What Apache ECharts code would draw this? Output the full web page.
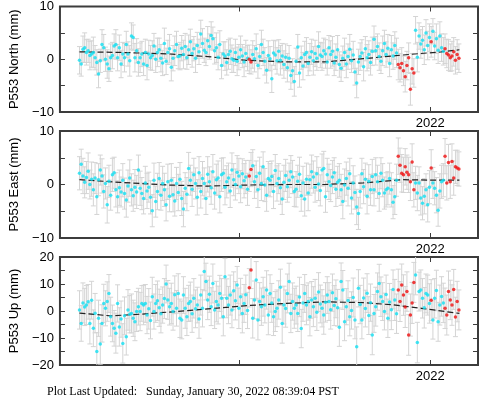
<!DOCTYPE html>
<html><head><meta charset="utf-8">
<script src="https://cdn.jsdelivr.net/npm/echarts@6/dist/echarts.min.js"></script>
<style>html,body{margin:0;padding:0;background:#fff}#c{width:481px;height:404px}</style>
</head><body><div id="c"></div>
<script>
// ---- data (mm), epochs in decimal years (regular sampling grid) ----
const epochStart = 2020.168, epochStep = 0.009047, epochCount = 220;
const northVals = [
 -0.2,-0.9,1.9,2.2,1.3,1.6,0.7,1.0,1.3,0.3,
 -0.6,-2.8,-0.3,2.8,2.2,0.0,-0.9,-1.8,0.3,0.7,
 2.5,2.8,0.3,2.2,-0.9,1.0,0.3,2.8,1.0,-0.3,
 4.4,4.1,0.3,1.6,-0.6,0.3,1.0,-0.9,1.3,-1.2,
 1.0,0.3,0.7,2.5,0.0,1.3,1.8,0.2,-0.7,3.0,
 -0.4,1.3,2.0,-1.5,0.2,1.6,2.8,0.5,0.6,2.1,
 0.9,2.4,0.3,1.8,3.3,1.1,2.0,0.2,2.6,1.4,
 4.8,3.0,1.7,1.3,3.5,2.4,4.5,3.9,1.6,2.2,
 0.4,2.8,-1.2,1.0,0.6,-0.6,0.9,1.5,0.1,-0.2,
 1.3,-0.4,0.4,1.8,0.6,-0.5,1.1,0.2,0.0,-0.5,
 0.9,0.1,2.0,-1.2,0.5,2.8,1.3,-0.4,-2.1,0.7,
 0.1,-3.7,1.2,0.8,-0.3,1.5,-0.2,0.6,-1.0,0.4,
 -1.6,0.2,-3.1,-2.2,-4.2,-0.4,2.3,-2.6,0.3,-1.3,
 0.9,1.3,-0.8,0.4,1.4,-0.3,1.1,0.2,2.4,0.8,
 0.5,1.6,1.0,-0.5,2.2,0.9,1.5,-0.7,0.4,1.8,
 -1.0,-1.7,0.2,1.3,-0.9,0.5,1.9,-0.3,0.8,-2.4,
 -4.5,-0.5,0.5,1.2,-1.4,2.0,0.3,0.9,-0.6,1.5,
 3.8,1.6,2.4,0.5,-0.4,1.6,3.0,0.9,2.1,-0.8,
 1.8,0.6,2.6,1.2,-1.0,-1.6,-0.8,-2.2,-3.3,-1.2,
 0.3,-5.7,-1.8,-2.6,5.5,0.4,4.4,2.9,3.6,1.8,
 5.0,2.6,4.1,3.3,5.3,2.5,3.9,1.7,4.4,2.2,
 1.5,2.0,1.1,0.8,0.3,0.6,1.4,-0.2,0.9,0.2];
const eastVals = [
 2.1,3.8,1.6,0.4,1.3,2.5,0.0,1.0,-1.0,1.2,
 -2.3,0.9,2.7,1.6,-1.3,0.2,-3.8,0.6,-2.0,1.8,
 2.2,-1.0,-2.3,-0.6,-1.4,0.8,-1.7,-2.9,-0.3,1.2,
 -1.0,-2.1,-0.5,-1.4,2.7,-0.7,-1.7,-2.6,0.3,-1.2,
 -0.5,-2.4,-4.9,0.8,-3.2,-1.3,1.1,-2.0,0.2,-1.0,
 -3.8,0.5,-2.2,0.8,-1.9,-3.1,0.2,-1.5,1.0,-2.6,
 -4.6,-0.7,-1.8,3.0,0.8,-0.9,1.8,0.2,-2.4,2.2,
 -1.3,1.1,0.2,-2.6,1.9,0.5,-0.6,2.4,-1.6,0.9,
 1.2,-2.3,1.8,2.1,-0.5,0.5,1.2,-1.2,2.7,0.9,
 0.0,2.3,1.6,-0.4,2.0,0.7,1.4,-0.9,1.6,2.8,
 3.5,0.5,1.5,-1.0,2.1,0.2,3.3,-0.1,-2.0,1.1,
 0.8,1.5,-1.3,2.6,0.2,1.1,-0.6,-2.7,0.4,1.7,
 -0.4,0.8,2.4,1.4,-1.3,-0.9,0.6,1.9,-2.1,0.3,
 -2.7,1.0,-1.6,0.9,2.4,1.4,-0.5,2.0,0.1,-1.1,
 2.7,3.0,-2.3,1.8,0.5,-0.2,1.4,2.2,-0.9,0.4,
 0.8,-1.0,-3.2,-0.1,1.1,-0.7,2.0,-2.5,0.3,-1.5,
 -4.2,-5.4,-1.3,2.0,-0.4,1.0,-2.2,0.6,-1.0,1.5,
 -1.0,1.8,0.5,-1.7,2.1,0.8,-1.6,-1.0,-0.7,1.1,
 -1.0,-3.3,-2.3,0.8,5.3,3.6,2.1,1.8,3.3,2.3,
 1.8,0.5,4.2,-1.0,0.3,-1.6,0.3,-2.5,-3.5,-2.2,
 -1.0,-3.8,-0.5,3.1,0.3,-0.7,-2.0,-4.8,-1.2,0.5,
 0.8,5.3,0.3,4.1,0.5,4.3,1.2,3.3,3.1,2.9];
const upVals = [
 0.4,-4.6,3.0,1.5,2.2,3.4,-4.6,4.0,-6.4,-0.8,
 -15.0,-2.7,-12.2,-4.6,2.8,1.0,3.5,6.5,-2.1,-4.6,
 -6.4,-8.2,2.8,-5.9,-3.0,-12.0,-1.8,-9.5,0.4,-1.2,
 -0.9,-2.7,-4.0,-0.2,1.6,-0.2,2.8,2.2,2.8,-1.5,
 0.8,-3.5,5.3,-0.2,2.8,3.8,1.2,-1.0,2.2,4.6,
 10.0,4.1,1.6,2.8,-0.2,6.0,1.0,6.5,-2.7,-3.3,
 5.9,1.0,-2.1,2.8,3.5,-1.0,4.7,0.8,2.2,-3.0,
 5.9,1.0,14.6,10.9,4.1,6.2,1.6,10.2,0.4,3.5,
 2.2,6.5,4.7,-2.1,12.7,4.7,2.2,5.9,0.4,7.5,
 3.8,9.6,1.0,5.3,-0.9,2.8,6.0,0.2,8.6,15.2,
 -2.7,4.1,11.5,-3.3,3.5,1.6,5.3,2.2,7.8,-1.5,
 6.5,3.0,-2.1,-0.2,1.0,4.1,8.8,-4.6,2.2,0.9,
 6.5,10.9,-0.9,3.5,1.0,2.2,-0.9,5.2,-6.5,3.0,
 6.5,2.2,3.5,-2.1,4.1,1.6,4.7,-0.5,7.0,2.6,
 1.0,-1.5,3.2,5.9,3.5,0.5,6.8,2.0,4.5,1.2,
 -6.0,10.9,7.8,-4.0,1.6,3.9,-2.1,0.2,5.0,-3.3,
 -13.2,8.4,2.4,-3.3,4.8,0.9,6.6,-1.7,3.1,-8.9,
 -0.9,1.6,7.2,10.2,5.3,3.5,-0.2,6.1,-2.7,3.3,
 0.5,8.0,4.1,-1.0,7.8,3.5,9.6,5.9,1.5,7.2,
 -8.9,-1.5,3.0,10.6,13.3,-11.7,7.2,7.8,4.7,1.2,
 6.5,5.9,2.8,4.0,-3.3,4.7,7.6,-4.0,2.2,5.4,
 3.0,1.0,-1.5,7.2,4.1,2.2,8.0,-2.2,3.5,0.4];
const northErr = [
 2.6,2.3,2.5,2.8,2.4,2.2,2.7,2.5,2.9,2.3, 2.4,2.6,2.2,2.8,2.5,2.3,2.7,2.4,2.6,2.5,
 2.3,2.8,2.5,2.4,2.6,2.2,2.7,2.5,2.3,2.9, 2.5,2.4,2.7,2.3,2.6,2.8,2.4,2.2,2.5,2.7,
 2.6,2.3,2.8,2.4,2.5,2.7,2.2,2.6,2.4,2.9, 2.5,2.3,2.7,2.6,2.4,2.8,2.5,2.3,2.6,2.4,
 2.7,2.5,2.2,2.8,2.4,2.6,2.3,2.7,2.5,2.4, 2.6,2.8,2.3,2.5,2.7,2.4,2.6,2.2,2.5,2.8,
 2.4,2.6,2.5,2.3,2.7,2.4,2.8,2.5,2.6,2.3, 2.5,2.7,2.4,2.6,2.2,2.8,2.5,2.4,2.7,2.3,
 2.6,2.5,2.8,2.4,2.3,2.7,2.5,2.6,2.4,2.8, 2.3,2.6,2.4,2.7,2.5,2.2,2.8,2.4,2.6,2.5,
 2.7,2.4,2.6,2.3,2.8,2.5,2.4,2.7,2.2,2.6, 2.5,2.8,2.3,2.6,2.4,2.7,2.5,2.3,2.8,2.4,
 2.6,2.4,2.7,2.5,2.3,2.6,2.8,2.4,2.5,2.7, 2.4,2.5,2.3,2.7,2.6,2.4,2.8,2.2,2.6,2.5,
 2.8,2.4,2.6,2.5,2.7,2.3,2.5,2.6,2.4,2.7, 2.5,2.7,2.4,2.6,2.3,2.8,2.5,2.4,2.6,2.5,
 2.7,2.5,2.6,2.8,2.9,2.7,3.0,2.8,2.9,2.7, 2.8,3.0,2.9,2.7,2.6,2.8,2.5,2.7,2.6,2.8,
 2.5,2.7,2.6,2.9,2.4,2.6,2.8,2.5,2.7,2.6, 2.6,2.8,2.7,2.9,2.6,2.8,2.7,2.6,2.8,2.7];
const eastErr = [
 3.1,2.8,3.3,2.9,3.0,3.4,2.7,3.2,3.0,2.9, 3.3,3.0,2.8,3.2,3.1,2.9,3.4,3.0,2.8,3.1,
 2.9,3.2,3.0,3.3,2.8,3.1,2.9,3.2,3.0,3.4, 3.0,2.9,3.3,3.1,2.8,3.2,3.0,2.9,3.1,3.3,
 2.8,3.1,3.0,3.2,2.9,3.4,3.0,2.8,3.2,3.1, 3.0,3.3,2.9,3.1,3.2,2.8,3.0,3.4,3.1,3.2,
 3.3,2.9,3.1,3.0,2.8,3.2,3.1,2.9,3.3,3.0, 3.1,3.2,2.9,3.0,3.3,2.8,3.1,3.2,3.0,2.9,
 3.2,3.0,3.1,2.9,3.3,3.0,2.8,3.1,3.2,3.0, 2.9,3.1,3.3,3.0,2.8,3.2,3.1,3.0,2.9,3.2,
 3.0,3.1,2.9,3.3,3.0,3.2,2.8,3.1,3.0,3.2, 3.1,2.9,3.2,3.0,3.3,2.8,3.1,2.9,3.2,3.0,
 2.9,3.2,3.0,3.1,2.8,3.3,3.0,3.2,2.9,3.1, 3.2,3.0,3.3,2.9,3.1,3.0,2.8,3.2,3.1,2.9,
 3.0,3.2,2.9,3.1,3.3,3.0,3.1,2.8,3.2,3.0, 3.1,2.9,3.2,3.0,3.1,3.3,2.9,3.0,3.2,3.1,
 3.3,3.0,3.1,2.9,3.2,3.0,3.3,3.1,2.9,3.2, 3.0,3.2,3.1,3.3,2.9,3.1,3.0,3.2,3.1,2.9,
 3.2,3.1,3.3,3.0,3.4,3.2,3.5,3.3,3.4,3.2, 3.3,3.5,3.4,3.2,3.1,3.3,3.0,3.2,3.1,3.3,
 3.0,3.2,3.1,3.4,2.9,3.1,3.3,3.0,3.2,3.1, 3.1,3.3,3.2,3.4,3.1,3.3,3.2,3.1,3.3,3.2];
const upErr = [
 7.1,6.6,7.4,6.9,7.2,6.4,7.6,7.0,6.8,7.3, 7.0,6.7,7.5,6.9,7.1,6.5,7.3,7.0,7.2,6.8,
 6.6,7.4,6.9,7.1,6.7,7.3,7.0,6.8,7.5,6.9, 7.2,6.7,7.0,7.4,6.8,7.1,6.6,7.3,7.0,6.9,
 7.5,6.8,7.2,6.5,7.0,7.3,6.9,7.1,6.7,7.4, 7.0,7.2,6.8,7.5,6.9,7.0,6.6,7.3,7.1,7.0,
 6.8,7.4,7.0,6.7,7.2,6.9,7.3,7.0,6.6,7.1, 7.4,6.9,7.1,6.8,7.3,6.7,7.0,7.2,6.9,7.5,
 7.0,6.7,7.3,7.1,6.8,7.2,6.9,7.4,6.6,7.0, 7.1,6.9,7.5,6.8,7.2,7.0,7.3,6.7,7.1,6.9,
 7.3,7.0,6.8,7.4,7.0,6.9,7.2,6.6,7.1,7.3, 6.9,7.2,7.0,7.4,6.8,7.1,6.7,7.3,7.0,6.9,
 7.2,6.8,7.1,6.9,7.4,7.0,6.7,7.3,7.1,6.8, 7.0,7.3,6.9,7.1,6.8,7.4,7.0,6.7,7.2,7.0,
 6.9,7.1,7.3,6.8,7.0,7.2,6.9,7.4,7.0,6.8, 7.1,6.9,7.2,7.0,6.7,7.3,7.1,6.9,7.2,7.0,
 7.3,6.9,7.1,7.0,7.4,6.8,7.2,7.0,6.9,7.3, 7.0,7.2,6.9,7.1,7.3,7.0,6.8,7.2,7.1,6.9,
 7.4,7.2,7.6,7.3,7.7,7.4,7.8,7.5,7.6,7.3, 7.5,7.8,7.6,7.4,7.3,7.5,7.2,7.4,7.3,7.5,
 7.2,7.4,7.3,7.6,7.1,7.3,7.5,7.2,7.4,7.3, 7.3,7.5,7.4,7.6,7.3,7.5,7.4,7.3,7.5,7.4];
const redIndices = [98,99,184,185,186,187,188,189,190,191,192,193,203,211,212,213,214,215,216,217,218,219];
// trend (model) curves
const trendYearsNE = [2020.168,2020.381,2020.635,2020.838,2021.041,2021.244,2021.447,2021.650,2021.853,2022.056,2022.152];
const trendNorth = [1.4,1.3,1.0,0.5,-0.2,-0.5,-0.5,0.1,0.8,1.4,1.8];
const trendEast = [0.9,0.4,-0.1,-0.3,-0.1,0.0,0.0,0.3,0.9,0.8,0.8];
const trendYearsU = [2020.168,2020.330,2020.482,2020.635,2020.838,2021.041,2021.244,2021.447,2021.650,2021.802,2021.954,2022.152];
const trendUp = [-0.8,-1.8,-1.2,-0.4,0.8,2.0,2.8,3.4,3.1,2.3,1.0,-0.9];
// axes
const xMin = 2020.066, xMax = 2022.249;
const xTickYears = [2021, 2022];
const xLabelYears = [2022];
const panelNames = ['P553 North (mm)', 'P553 East (mm)', 'P553 Up (mm)'];
const panelRanges = [[-10, 10], [-10, 10], [-20, 20]];
const footerText = 'Plot Last Updated:   Sunday, January 30, 2022 08:39:04 PST';

// ---- build ----
const epochs = [];
for (let i = 0; i < epochCount; i++) epochs.push(+(epochStart + i * epochStep).toFixed(4));
const redSet = new Set(redIndices);
const panels = [
  {vals: northVals, err: northErr, ty: trendYearsNE, tv: trendNorth},
  {vals: eastVals, err: eastErr, ty: trendYearsNE, tv: trendEast},
  {vals: upVals, err: upErr, ty: trendYearsU, tv: trendUp}
];
const FRAME = '#3c3c3c';
const FONT = 'Liberation Sans, Arial, sans-serif';
const grids = [
  {left: 48, top: 5, width: 430, height: 107},
  {left: 48, top: 131, width: 430, height: 107},
  {left: 48, top: 257, width: 430, height: 108}
].map(g => Object.assign(g, {show: true, borderColor: FRAME, borderWidth: 2, backgroundColor: 'transparent'}));

const xAxis = [], yAxis = [], series = [];
panels.forEach((p, g) => {
  ['bottom', 'top'].forEach(pos => {
    xAxis.push({
      type: 'value', gridIndex: g, position: pos, min: xMin, max: xMax,
      axisLine: {show: false, onZero: false}, splitLine: {show: false},
      axisTick: {show: true, inside: true, length: 5, customValues: xTickYears, lineStyle: {color: FRAME, width: 1}},
      axisLabel: {show: pos === 'bottom', customValues: xLabelYears, margin: 5, color: '#000', fontSize: 13, fontFamily: FONT,
        formatter: v => String(Math.round(v))}
    });
  });
  const r = panelRanges[g];
  ['left', 'right'].forEach(pos => {
    yAxis.push({
      type: 'value', gridIndex: g, position: pos, min: r[0], max: r[1], interval: 5,
      axisLine: {show: false, onZero: false}, splitLine: {show: false},
      axisTick: {show: true, inside: true, length: 5, lineStyle: {color: FRAME, width: 1}},
      axisLabel: {show: pos === 'left', margin: 6, color: '#000', fontSize: 13, fontFamily: FONT,
        formatter: v => (v % 10 === 0 ? (v < 0 ? '\u2212' + Math.abs(v) : String(v)) : '')},
      name: pos === 'left' ? panelNames[g] : '', nameLocation: 'middle', nameGap: 37, nameRotate: 90,
      nameTextStyle: {color: '#000', fontSize: 13, fontFamily: FONT}
    });
  });
  const xi = 2 * g, yi = 2 * g;
  const errData = p.vals.map((v, i) => [epochs[i], v, p.err[i]]);
  series.push({
    type: 'custom', xAxisIndex: xi, yAxisIndex: yi, clip: true, z: 1, silent: true,
    data: errData, encode: {x: 0, y: 1},
    renderItem: (params, api) => {
      const x = api.value(0), v = api.value(1), e = api.value(2);
      const hi = api.coord([x, v + e]), lo = api.coord([x, v - e]);
      const hw = 2.5;
      const st = {stroke: '#d4d4d4', lineWidth: 1};
      return {type: 'group', children: [
        {type: 'line', shape: {x1: hi[0], y1: hi[1], x2: lo[0], y2: lo[1]}, style: st},
        {type: 'line', shape: {x1: hi[0] - hw, y1: hi[1], x2: hi[0] + hw, y2: hi[1]}, style: st},
        {type: 'line', shape: {x1: lo[0] - hw, y1: lo[1], x2: lo[0] + hw, y2: lo[1]}, style: st}
      ]};
    }
  });
  // trend model drawn as one dashed polyline through the axis scales
  const trendPts = p.ty.map((t, i) => [t, p.tv[i]]);
  series.push({
    type: 'custom', xAxisIndex: xi, yAxisIndex: yi, z: 2, silent: true, clip: true,
    data: [[trendPts[0][0], trendPts[0][1]]], encode: {x: 0, y: 1},
    renderItem: (params, api) => ({
      type: 'polyline',
      shape: {points: trendPts.map(pt => api.coord(pt))},
      style: {stroke: '#222', lineWidth: 1.2, fill: null, lineDash: [6, 3]}
    })
  });
  series.push({
    type: 'scatter', xAxisIndex: xi, yAxisIndex: yi, z: 3, symbol: 'circle', symbolSize: 3.5, silent: true,
    itemStyle: {color: '#14e0f2'},
    data: p.vals.map((v, i) => [epochs[i], v]).filter((d, i) => !redSet.has(i))
  });
  series.push({
    type: 'scatter', xAxisIndex: xi, yAxisIndex: yi, z: 4, symbol: 'circle', symbolSize: 3.5, silent: true,
    itemStyle: {color: '#f01010'},
    data: p.vals.map((v, i) => [epochs[i], v]).filter((d, i) => redSet.has(i))
  });
});

const chart = echarts.init(document.getElementById('c'), null, {renderer: 'canvas'});
chart.setOption({
  animation: false,
  backgroundColor: '#fff',
  grid: grids, xAxis, yAxis, series,
  graphic: [{type: 'text', x: 47, y: 392, style: {text: footerText, font: '12px "Liberation Serif", "Times New Roman", serif', fill: '#000', verticalAlign: 'middle'}}]
});
</script></body></html>
